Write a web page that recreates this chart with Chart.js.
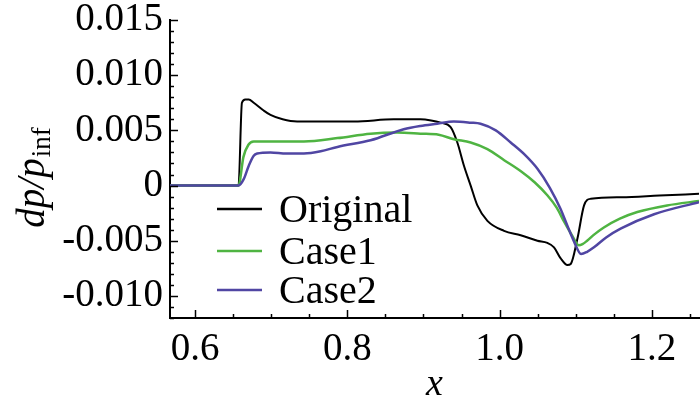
<!DOCTYPE html>
<html><head><meta charset="utf-8">
<script src="https://cdn.jsdelivr.net/npm/chart.js@4/dist/chart.umd.min.js"></script>
<style>html,body{margin:0;padding:0;background:#fff}#wrap{width:700px;height:399px;position:relative}</style>
</head><body><div id="wrap"><canvas id="c" width="700" height="399"></canvas></div>
<script>
const seriesNames = ['Original', 'Case1', 'Case2'];
const seriesColors = ['#000000', '#4fb442', '#5046a3'];

const xOriginal = [0.567,0.657,0.6615,0.666,0.6705,0.677,0.690,0.699,0.715,0.734,0.77,0.809,0.861,0.896,0.910,0.9226,0.9357,0.9445,0.9532,0.962,0.9708,0.984,1.0058,1.0277,1.0497,1.0628,1.0715,1.0803,1.0891,1.0935,1.1023,1.111,1.1198,1.16,1.21,1.262];
const yOriginal = [0,0,0.0075,0.0078,0.0078,0.0075,0.0068,0.0064,0.0060,0.0058,0.0058,0.0058,0.0060,0.0060,0.0059,0.0057,0.0053,0.0039,0.0018,0,-0.0018,-0.0032,-0.0041,-0.0045,-0.0050,-0.0052,-0.0056,-0.0066,-0.0072,-0.0071,-0.0048,-0.0018,-0.0012,-0.00105,-0.0009,-0.00075];

const xCase1 = [0.567,0.657,0.6635,0.670,0.677,0.699,0.743,0.787,0.8305,0.8656,0.896,0.920,0.940,0.962,0.984,1.006,1.028,1.046,1.063,1.075,1.085,1.095,1.104,1.109,1.115,1.125,1.137,1.158,1.181,1.22,1.262];
const yCase1 = [0,0,0.0026,0.0037,0.0040,0.0040,0.0040,0.0043,0.0047,0.0048,0.0047,0.0046,0.0042,0.0039,0.0033,0.0023,0.0013,0.0003,-0.0009,-0.0020,-0.0033,-0.0045,-0.0054,-0.0053,-0.0050,-0.0044,-0.0038,-0.0030,-0.0024,-0.0018,-0.0014];

const xCase2 = [0.567,0.657,0.664,0.6705,0.677,0.6815,0.699,0.720,0.743,0.765,0.787,0.8305,0.874,0.896,0.918,0.940,0.962,0.975,0.995,1.0146,1.033,1.050,1.066,1.080,1.090,1.098,1.107,1.115,1.124,1.140,1.159,1.203,1.262];
const yCase2 = [0,0,0.0006,0.0018,0.0027,0.0029,0.0030,0.0029,0.0029,0.0031,0.0035,0.0041,0.0051,0.0054,0.0056,0.0058,0.0057,0.0056,0.0050,0.0039,0.0028,0.0015,-0.0002,-0.0021,-0.0038,-0.0051,-0.0062,-0.0060,-0.0056,-0.0047,-0.0039,-0.0026,-0.0015];

const xTicks = [0.6, 0.8, 1.0, 1.2];
const yTicks = [-0.010, -0.005, 0, 0.005, 0.010, 0.015];
const xRange = [0.567, 1.262];
const yRange = [-0.012, 0.015];

const FONT = '"Liberation Serif", "Times New Roman", serif';
const pts = (xs, ys) => xs.map((x, i) => ({x, y: ys[i]}));
const allX = [xOriginal, xCase1, xCase2];
const allY = [yOriginal, yCase1, yCase2];

const decor = {
  id: 'decor',
  afterDraw(chart) {
    const ctx = chart.ctx, xs = chart.scales.x, ys = chart.scales.y, a = chart.chartArea;
    ctx.save();
    ctx.strokeStyle = '#000'; ctx.lineWidth = 1.5;
    for (let k = -12; k <= 15; k++) {
      const py = Math.round(ys.getPixelForValue(k / 1000)) + 0.5;
      const len = (k % 5 === 0) ? 8 : 4;
      ctx.beginPath(); ctx.moveTo(a.left, py); ctx.lineTo(a.left + len, py); ctx.stroke();
    }
    for (let k = 12; k <= 25; k++) {
      const v = k * 0.05;
      if (v > xRange[1]) break;
      const px = Math.round(xs.getPixelForValue(v)) + 0.5;
      const len = (k % 4 === 0) ? 8 : 4;
      ctx.beginPath(); ctx.moveTo(px, a.bottom); ctx.lineTo(px, a.bottom - len); ctx.stroke();
    }
    // legend
    const rows = [209, 251, 290];
    chart.data.datasets.forEach((ds, i) => {
      ctx.strokeStyle = ds.borderColor; ctx.lineWidth = 2.5;
      ctx.beginPath(); ctx.moveTo(217, rows[i]); ctx.lineTo(262, rows[i]); ctx.stroke();
      ctx.fillStyle = '#000'; ctx.font = '40px ' + FONT; ctx.textBaseline = 'alphabetic'; ctx.textAlign = 'left';
      ctx.fillText(ds.label, 279, rows[i] + 13);
    });
    // y title
    ctx.save();
    ctx.translate(44, 178);
    ctx.rotate(-Math.PI / 2);
    ctx.font = 'italic 39px ' + FONT;
    const main = 'dp/p';
    const w1 = ctx.measureText(main).width;
    ctx.font = '27px ' + FONT;
    const w2 = ctx.measureText('inf').width;
    const start = -(w1 + w2) / 2;
    ctx.fillStyle = '#000'; ctx.textAlign = 'left'; ctx.textBaseline = 'alphabetic';
    ctx.font = 'italic 39px ' + FONT;
    ctx.fillText(main, start, 0);
    ctx.font = '27px ' + FONT;
    ctx.fillText('inf', start + w1 + 1, 6);
    ctx.restore();
    // x title
    ctx.font = 'italic 38px ' + FONT; ctx.textAlign = 'center'; ctx.textBaseline = 'alphabetic';
    ctx.fillText('x', (a.left + a.right) / 2, 395);
    ctx.restore();
  }
};

new Chart(document.getElementById('c'), {
  type: 'line',
  data: {
    datasets: seriesNames.map((name, i) => ({
      label: name,
      data: pts(allX[i], allY[i]),
      borderColor: seriesColors[i],
      backgroundColor: seriesColors[i],
      borderWidth: i === 0 ? 2 : 2.5,
      pointRadius: 0,
      cubicInterpolationMode: 'monotone',
      fill: false,
      order: 3 - i
    }))
  },
  options: {
    responsive: false,
    animation: false,
    events: [],
    layout: { padding: { top: 20, right: 1, left: 0, bottom: 0 } },
    plugins: { legend: { display: false }, tooltip: { enabled: false } },
    scales: {
      x: {
        type: 'linear', min: xRange[0], max: xRange[1],
        grid: { display: false, drawTicks: false },
        border: { display: true, color: '#000', width: 2 },
        afterBuildTicks: s => { s.ticks = xTicks.map(v => ({value: v})); },
        afterFit: s => { s.height = 81; s.paddingLeft = 0; s.paddingRight = 0; },
        ticks: { color: '#000', font: { family: FONT, size: 39 }, padding: 8, maxRotation: 0, autoSkip: false,
          callback: v => v.toFixed(1) }
      },
      y: {
        type: 'linear', min: yRange[0], max: yRange[1],
        grid: { display: false, drawTicks: false },
        border: { display: true, color: '#000', width: 2 },
        afterBuildTicks: s => { s.ticks = yTicks.map(v => ({value: v})); },
        afterFit: s => { s.width = 170; s.paddingTop = 0; s.paddingBottom = 0; },
        ticks: { color: '#000', font: { family: FONT, size: 39 }, padding: 7, autoSkip: false,
          callback: v => Math.abs(v) < 1e-9 ? '0' : v.toFixed(3) }
      }
    }
  },
  plugins: [decor]
});
</script></body></html>
